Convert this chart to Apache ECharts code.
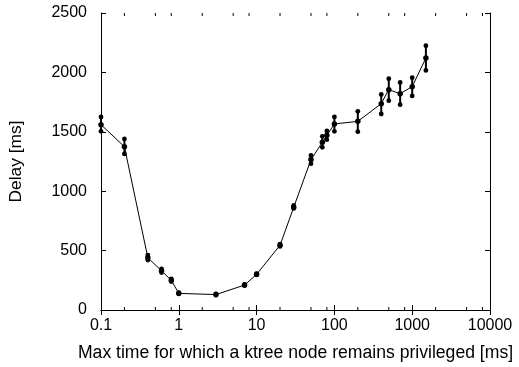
<!DOCTYPE html>
<html><head><meta charset="utf-8">
<script src="https://cdn.jsdelivr.net/npm/echarts@6/dist/echarts.min.js"></script>
<style>html,body{margin:0;padding:0;background:#fff}#c{width:519px;height:367px}</style>
</head><body><div id="c"></div>
<script>
var xs    = [0.1, 0.2, 0.4, 0.6, 0.8, 1, 3, 7, 10, 20, 30, 50, 70, 80, 100, 200, 400, 500, 700, 1000, 1500];
var means = [1560, 1375, 440, 330, 250, 140, 130, 210, 300, 545, 865, 1266, 1411, 1470, 1566, 1588, 1737, 1855, 1821, 1880, 2121];
var mins  = [1504, 1314, 420, 315, 240, 135, 125, 205, 295, 535, 855, 1232, 1369, 1434, 1504, 1501, 1650, 1762, 1728, 1802, 2017];
var maxs  = [1625, 1440, 462, 346, 262, 145, 135, 215, 305, 555, 880, 1302, 1462, 1507, 1625, 1672, 1815, 1947, 1916, 1956, 2225];
var minorTicks = [0.2, 0.5, 0.8, 2, 5, 8, 20, 50, 80, 200, 500, 800, 2000, 5000, 8000];
var xTitle = 'Max time for which a ktree node remains privileged [ms]';
var yTitle = 'Delay [ms]';

var font = 'Liberation Sans, Arial, sans-serif';
var chart = echarts.init(document.getElementById('c'), null, {renderer: 'canvas'});
var axLine = {show: true, lineStyle: {color: '#000', width: 1}};
var tick = {show: true, inside: true, length: 5, lineStyle: {color: '#000', width: 1}};
chart.setOption({
  animation: false,
  backgroundColor: '#fff',
  grid: {left: 100, right: 29, top: 13, bottom: 56, containLabel: false},
  xAxis: [{
    type: 'log', logBase: 10, min: 0.1, max: 10000, position: 'bottom',
    axisLine: axLine, axisTick: tick, splitLine: {show: false},
    axisLabel: {color: '#000', fontFamily: font, fontSize: 16, margin: 8,
      formatter: function (v) { return String(+v.toPrecision(6)); }},
    name: xTitle, nameLocation: 'middle', nameGap: 34,
    nameTextStyle: {color: '#000', fontFamily: font, fontSize: 17.6}
  }, {
    type: 'log', logBase: 10, min: 0.1, max: 10000, position: 'top',
    axisLine: axLine, axisTick: tick, axisLabel: {show: false}, splitLine: {show: false}
  }],
  yAxis: [{
    type: 'value', min: 0, max: 2500, interval: 500, position: 'left',
    axisLine: axLine, axisTick: tick, splitLine: {show: false},
    axisLabel: {color: '#000', fontFamily: font, fontSize: 16, margin: 14,
      formatter: function (v) { return String(v); }},
    name: yTitle, nameLocation: 'middle', nameGap: 76, nameRotate: 90,
    nameTextStyle: {color: '#000', fontFamily: font, fontSize: 17.4}
  }, {
    type: 'value', min: 0, max: 2500, interval: 500, position: 'right',
    axisLine: axLine, axisTick: tick, axisLabel: {show: false}, splitLine: {show: false}
  }],
  series: [{
    type: 'line',
    data: xs.map(function (x, i) { return [x, means[i]]; }),
    symbol: 'circle', symbolSize: 5.5,
    itemStyle: {color: '#000'},
    lineStyle: {color: '#000', width: 1}
  }, {
    type: 'custom',
    data: xs.map(function (x, i) { return [x, mins[i], maxs[i]]; }),
    renderItem: function (params, api) {
      var lo = api.coord([api.value(0), api.value(1)]);
      var hi = api.coord([api.value(0), api.value(2)]);
      return {type: 'group', children: [
        {type: 'line', shape: {x1: lo[0], y1: lo[1], x2: hi[0], y2: hi[1]},
         style: {stroke: '#000', lineWidth: 2}},
        {type: 'circle', shape: {cx: lo[0], cy: lo[1], r: 2.4}, style: {fill: '#000'}},
        {type: 'circle', shape: {cx: hi[0], cy: hi[1], r: 2.4}, style: {fill: '#000'}}
      ]};
    },
    z: 3
  }, {
    type: 'custom',
    data: minorTicks.map(function (x) { return [x]; }),
    renderItem: function (params, api) {
      var b = api.coord([api.value(0), 0]);
      var t = api.coord([api.value(0), 2500]);
      return {type: 'group', children: [
        {type: 'line', shape: {x1: b[0], y1: b[1], x2: b[0], y2: b[1] - 3}, style: {stroke: '#000', lineWidth: 1}},
        {type: 'line', shape: {x1: t[0], y1: t[1], x2: t[0], y2: t[1] + 3}, style: {stroke: '#000', lineWidth: 1}}
      ]};
    },
    silent: true
  }]
});
</script></body></html>
